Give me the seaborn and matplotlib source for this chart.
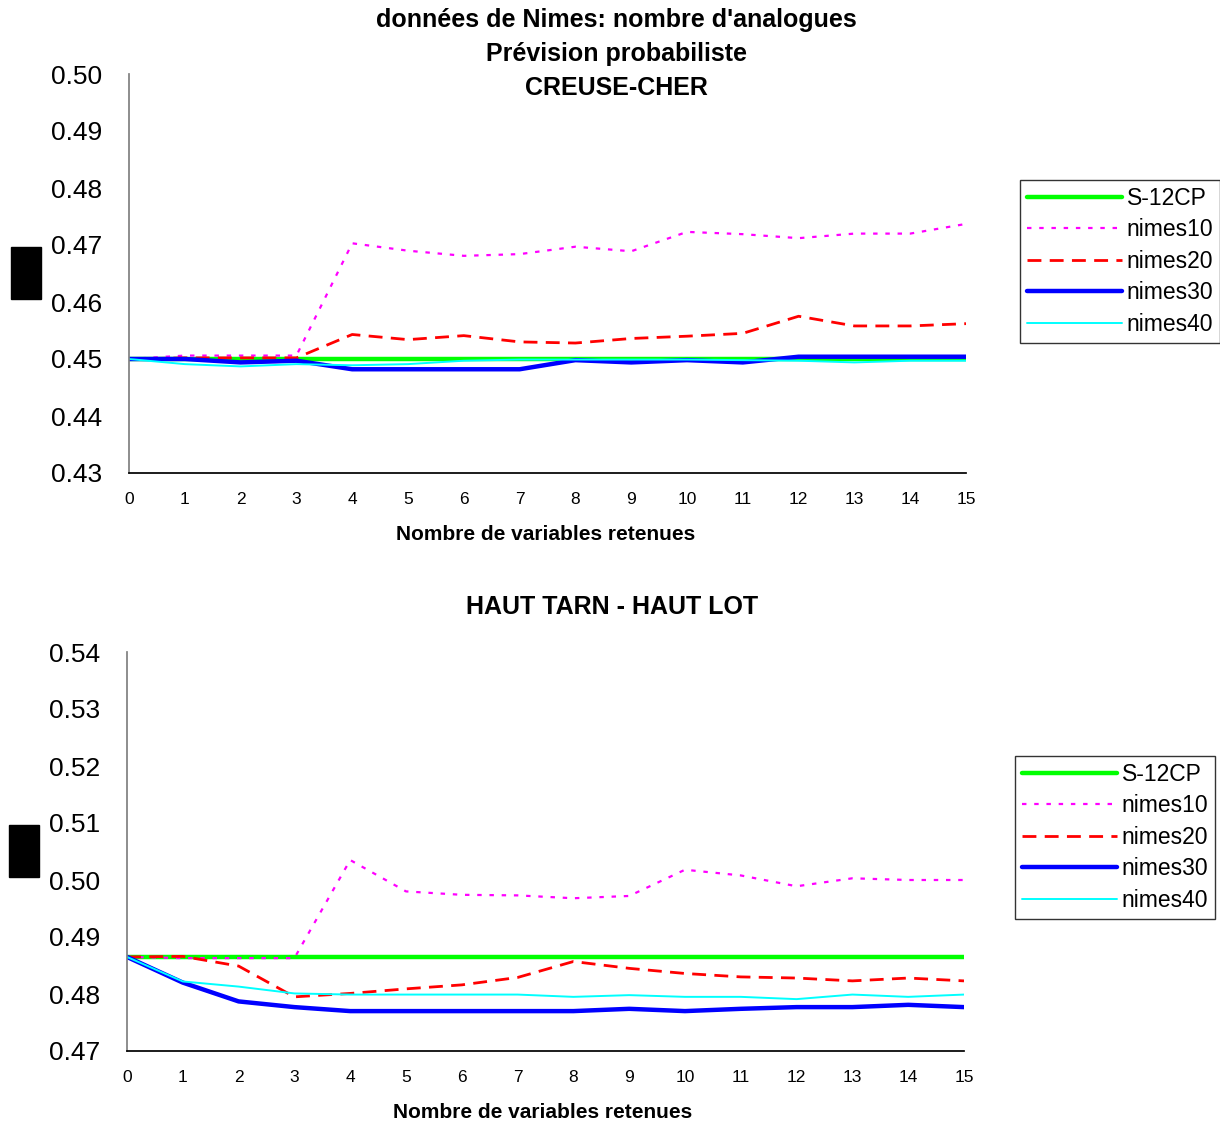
import pandas as pd
import numpy as np
import matplotlib
matplotlib.use("Agg")
import matplotlib.pyplot as plt
from matplotlib.patches import Rectangle
import seaborn as sns

# nombre de variables retenues
nb_variables = list(range(16))
series = ["S-12CP", "nimes10", "nimes20", "nimes30", "nimes40"]

# CREUSE-CHER
cc_s12cp = [0.4500] * 16
cc_nimes10 = [0.4500, 0.4506, 0.4506, 0.4506, 0.4703, 0.4690, 0.4681, 0.4684,
              0.4697, 0.4689, 0.4723, 0.4719, 0.4712, 0.4720, 0.4720, 0.4737]
cc_nimes20 = [0.4500, 0.4502, 0.4502, 0.4502, 0.4543, 0.4534, 0.4541, 0.4530,
              0.4528, 0.4536, 0.4540, 0.4545, 0.4575, 0.4558, 0.4558, 0.4562]
cc_nimes30 = [0.4500, 0.4500, 0.4494, 0.4497, 0.4482, 0.4482, 0.4482, 0.4482,
              0.4498, 0.4494, 0.4498, 0.4494, 0.4504, 0.4504, 0.4504, 0.4504]
cc_nimes40 = [0.4500, 0.4491, 0.4487, 0.4491, 0.4489, 0.4491, 0.4497, 0.4499,
              0.4499, 0.4499, 0.4499, 0.4498, 0.4497, 0.4494, 0.4497, 0.4497]

# HAUT TARN - HAUT LOT
tl_s12cp = [0.4865] * 16
tl_nimes10 = [0.4865, 0.4863, 0.4863, 0.4863, 0.5035, 0.4980, 0.4974, 0.4973,
              0.4968, 0.4972, 0.5018, 0.5008, 0.4989, 0.5003, 0.5000, 0.5000]
tl_nimes20 = [0.4865, 0.4866, 0.4849, 0.4795, 0.4801, 0.4809, 0.4816, 0.4829,
              0.4857, 0.4845, 0.4836, 0.4830, 0.4828, 0.4823, 0.4828, 0.4823]
tl_nimes30 = [0.4865, 0.4820, 0.4787, 0.4777, 0.4770, 0.4770, 0.4770, 0.4770,
              0.4770, 0.4774, 0.4770, 0.4774, 0.4777, 0.4777, 0.4781, 0.4777]
tl_nimes40 = [0.4865, 0.4822, 0.4813, 0.4801, 0.4799, 0.4799, 0.4799, 0.4799,
              0.4795, 0.4798, 0.4795, 0.4795, 0.4791, 0.4799, 0.4795, 0.4799]

couleurs = {"S-12CP": "#00ff00", "nimes10": "#ff00ff", "nimes20": "#ff0000",
            "nimes30": "#0000ff", "nimes40": "#00ffff"}
traits = {"S-12CP": "", "nimes10": (2, 3.5), "nimes20": (5, 3),
          "nimes30": "", "nimes40": ""}
epaisseurs = {"S-12CP": 3.2, "nimes10": 1.6, "nimes20": 2.0,
              "nimes30": 3.2, "nimes40": 1.4}


def to_long(valeurs):
    frames = []
    for nom, v in zip(series, valeurs):
        frames.append(pd.DataFrame({"x": nb_variables, "score": v, "serie": nom}))
    return pd.concat(frames, ignore_index=True)


sns.set_theme(style="white")
plt.rcParams["font.family"] = ["Liberation Sans", "DejaVu Sans"]
plt.rcParams["text.color"] = "black"

fig = plt.figure(figsize=(12.2, 11.24), dpi=100)
ax1 = fig.add_axes([129 / 1220, 1 - 473 / 1124, 837 / 1220, 399 / 1124])
ax2 = fig.add_axes([127 / 1220, 1 - 1051 / 1124, 837 / 1220, 399 / 1124])


def dessiner(ax, df, ylim, yticks, leg_pos):
    sns.lineplot(data=df, x="x", y="score", hue="serie", style="serie",
                 size="serie", palette=couleurs, dashes=traits,
                 sizes=epaisseurs, hue_order=series, style_order=series,
                 size_order=series, ax=ax)
    ax.set_xlim(0, 15)
    ax.set_ylim(*ylim)
    ax.set_xticks(nb_variables)
    ax.set_yticks(yticks)
    ax.set_yticklabels([f"{t:.2f}" for t in yticks])
    ax.tick_params(axis="y", direction="inout", length=14, width=1,
                   labelsize=19, pad=12, colors="black")
    ax.tick_params(axis="x", direction="inout", length=12, width=1,
                   labelsize=12.5, pad=8, colors="black")
    for s in ["top", "right"]:
        ax.spines[s].set_visible(False)
    ax.spines["left"].set_color("#808080")
    ax.spines["bottom"].set_color("black")
    ax.set_xlabel("")
    ax.set_ylabel("")
    handles, labels = ax.get_legend_handles_labels()
    ax.get_legend().remove()
    leg = fig.legend(handles, labels, loc="upper left", bbox_to_anchor=leg_pos,
                     fontsize=16.5, handlelength=4.15, labelspacing=0.37,
                     borderpad=0.3, handletextpad=0.2, frameon=True,
                     fancybox=False, borderaxespad=0)
    leg.get_frame().set_edgecolor("black")
    leg.get_frame().set_linewidth(1)


dessiner(ax1, to_long([cc_s12cp, cc_nimes10, cc_nimes20, cc_nimes30, cc_nimes40]),
         (0.43, 0.50), np.arange(0.43, 0.5001, 0.01), (1020 / 1220, 1 - 180 / 1124))
dessiner(ax2, to_long([tl_s12cp, tl_nimes10, tl_nimes20, tl_nimes30, tl_nimes40]),
         (0.47, 0.54), np.arange(0.47, 0.5401, 0.01), (1015 / 1220, 1 - 756 / 1124))

# titres
titre = dict(ha="center", va="center", fontsize=18, fontweight="bold", color="black")
fig.text(616 / 1220, 1 - 20 / 1124, "données de Nimes: nombre d'analogues", **titre)
fig.text(616 / 1220, 1 - 54 / 1124, "Prévision probabiliste", **titre)
fig.text(616 / 1220, 1 - 88 / 1124, "CREUSE-CHER", **titre)
fig.text(612 / 1220, 1 - 607 / 1124, "HAUT TARN - HAUT LOT", **titre)
axe_x = dict(ha="center", va="center", fontsize=15, fontweight="bold", color="black")
fig.text(546 / 1220, 1 - 535 / 1124, "Nombre de variables retenues", **axe_x)
fig.text(543 / 1220, 1 - 1113 / 1124, "Nombre de variables retenues", **axe_x)

# blocs noirs a la place du libelle des ordonnees
fig.patches.append(Rectangle((11 / 1220, 1 - 299 / 1124), 30 / 1220, 52 / 1124,
                             transform=fig.transFigure, color="black"))
fig.patches.append(Rectangle((9 / 1220, 1 - 877 / 1124), 30 / 1220, 52 / 1124,
                             transform=fig.transFigure, color="black"))

fig.savefig("out.png", dpi=100, facecolor="white")
